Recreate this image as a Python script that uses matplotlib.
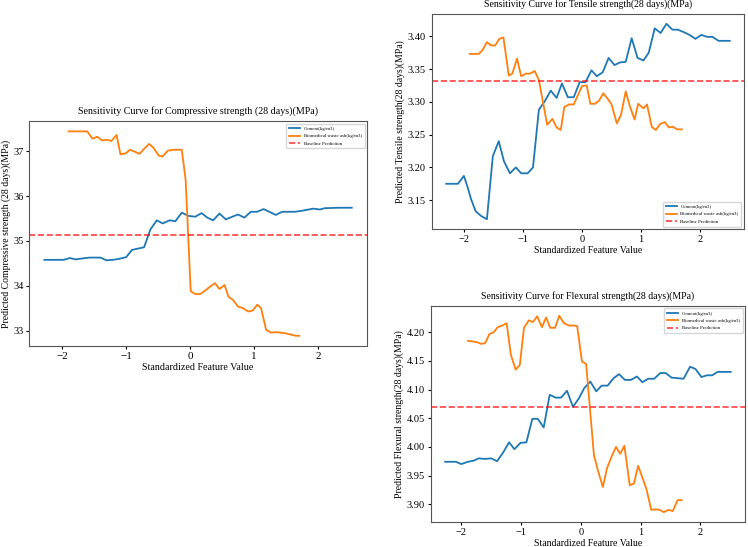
import numpy as np
import matplotlib
matplotlib.use("Agg")
import matplotlib.pyplot as plt

plt.rcParams['font.family'] = ['Liberation Serif', 'DejaVu Serif']

labels = ['Cement(kg/m3)', 'Biomedical waste ash(kg/m3)']

# Compressive strength
comp_cem_x = [-2.28, -1.98, -1.88, -1.79, -1.69, -1.58, -1.40, -1.31, -1.21, -1.12, -1.00, -0.91,
              -0.82, -0.72, -0.62, -0.52, -0.43, -0.32, -0.23, -0.13, -0.03, 0.08, 0.18, 0.27,
              0.36, 0.46, 0.56, 0.66, 0.75, 0.85, 0.95, 1.05, 1.15, 1.24, 1.34, 1.44, 1.64,
              1.74, 1.93, 2.03, 2.11, 2.32, 2.53]
comp_cem_y = [34.58, 34.58, 34.62, 34.59, 34.61, 34.63, 34.63, 34.57, 34.58, 34.60, 34.64, 34.80,
              34.83, 34.86, 35.26, 35.46, 35.39, 35.46, 35.44, 35.63, 35.56, 35.54, 35.62, 35.52,
              35.46, 35.61, 35.48, 35.54, 35.59, 35.52, 35.65, 35.65, 35.71, 35.65, 35.58, 35.65,
              35.65, 35.67, 35.72, 35.70, 35.73, 35.74, 35.74]
comp_bio_x = [-1.90, -1.61, -1.53, -1.45, -1.38, -1.30, -1.23, -1.15, -1.09, -1.01, -0.94, -0.87,
              -0.79, -0.72, -0.64, -0.57, -0.49, -0.43, -0.35, -0.27, -0.13, -0.07, 0.01, 0.08,
              0.16, 0.23, 0.30, 0.39, 0.46, 0.54, 0.60, 0.67, 0.75, 0.82, 0.91, 0.98, 1.05,
              1.11, 1.19, 1.27, 1.34, 1.48, 1.65, 1.71]
comp_bio_y = [37.44, 37.44, 37.28, 37.32, 37.24, 37.25, 37.23, 37.36, 36.93, 36.95, 37.03, 36.99,
              36.94, 37.05, 37.16, 37.07, 36.90, 36.88, 37.01, 37.03, 37.03, 36.37, 33.88, 33.82,
              33.82, 33.89, 33.97, 34.06, 33.93, 34.02, 33.76, 33.69, 33.54, 33.51, 33.43, 33.45,
              33.58, 33.51, 33.02, 32.96, 32.97, 32.95, 32.89, 32.89]
comp_base = 35.13

# Tensile strength
ten_cem_x = [-2.30, -2.10, -2.00, -1.93, -1.88, -1.80, -1.71, -1.61, -1.51, -1.41, -1.32, -1.22,
             -1.12, -1.03, -0.92, -0.83, -0.73, -0.63, -0.53, -0.43, -0.34, -0.24, -0.14, -0.04,
             0.06, 0.16, 0.25, 0.35, 0.45, 0.55, 0.64, 0.74, 0.84, 0.94, 1.04, 1.13, 1.23,
             1.33, 1.43, 1.53, 1.62, 1.73, 1.82, 1.92, 2.02, 2.12, 2.21, 2.31, 2.50]
ten_cem_y = [3.175, 3.175, 3.187, 3.168, 3.152, 3.133, 3.126, 3.121, 3.217, 3.240, 3.209, 3.191,
             3.200, 3.191, 3.191, 3.200, 3.288, 3.301, 3.317, 3.306, 3.328, 3.307, 3.307, 3.330,
             3.330, 3.348, 3.339, 3.345, 3.367, 3.356, 3.360, 3.361, 3.397, 3.367, 3.363, 3.375,
             3.412, 3.405, 3.419, 3.410, 3.410, 3.406, 3.402, 3.396, 3.402, 3.399, 3.399, 3.393,
             3.393]
ten_bio_x = [-1.90, -1.75, -1.69, -1.61, -1.54, -1.47, -1.40, -1.33, -1.24, -1.18, -1.10, -1.03,
             -0.95, -0.88, -0.80, -0.73, -0.67, -0.59, -0.50, -0.43, -0.36, -0.30, -0.22, -0.14,
             -0.07, 0.00, 0.08, 0.14, 0.22, 0.29, 0.36, 0.44, 0.50, 0.59, 0.66, 0.74, 0.81,
             0.89, 0.95, 1.04, 1.10, 1.18, 1.25, 1.32, 1.40, 1.47, 1.54, 1.61, 1.69]
ten_bio_y = [3.373, 3.373, 3.378, 3.391, 3.386, 3.386, 3.396, 3.398, 3.340, 3.343, 3.366, 3.339,
             3.343, 3.343, 3.347, 3.333, 3.304, 3.265, 3.274, 3.261, 3.257, 3.292, 3.296, 3.296,
             3.310, 3.324, 3.325, 3.297, 3.297, 3.302, 3.313, 3.304, 3.296, 3.267, 3.280, 3.316,
             3.293, 3.273, 3.297, 3.290, 3.296, 3.262, 3.257, 3.266, 3.269, 3.261, 3.262, 3.258,
             3.258]
ten_base = 3.332

# Flexural strength
flex_cem_x = [-2.27, -2.09, -2.00, -1.89, -1.79, -1.71, -1.60, -1.50, -1.40, -1.30, -1.20, -1.11,
              -1.01, -0.91, -0.81, -0.72, -0.62, -0.52, -0.42, -0.33, -0.23, -0.13, -0.03, 0.06,
              0.16, 0.26, 0.35, 0.45, 0.55, 0.64, 0.74, 0.84, 0.94, 1.03, 1.13, 1.23, 1.33,
              1.42, 1.52, 1.62, 1.72, 1.83, 1.92, 2.02, 2.11, 2.20, 2.29, 2.51]
flex_cem_y = [3.974, 3.974, 3.970, 3.974, 3.976, 3.980, 3.979, 3.980, 3.975, 3.990, 4.008, 3.996,
              4.007, 4.008, 4.049, 4.049, 4.034, 4.091, 4.086, 4.086, 4.098, 4.070, 4.085, 4.103,
              4.114, 4.097, 4.107, 4.107, 4.120, 4.127, 4.117, 4.117, 4.123, 4.113, 4.119, 4.119,
              4.129, 4.129, 4.121, 4.120, 4.119, 4.140, 4.136, 4.122, 4.125, 4.125, 4.131, 4.131]
flex_bio_x = [-1.89, -1.80, -1.74, -1.67, -1.60, -1.53, -1.46, -1.39, -1.31, -1.24, -1.17, -1.09,
              -1.02, -0.95, -0.87, -0.80, -0.73, -0.65, -0.58, -0.51, -0.43, -0.36, -0.28, -0.20,
              -0.13, -0.06, 0.02, 0.09, 0.22, 0.29, 0.37, 0.44, 0.52, 0.59, 0.66, 0.73, 0.82,
              0.89, 0.96, 1.03, 1.10, 1.18, 1.25, 1.32, 1.39, 1.47, 1.54, 1.62, 1.69]
flex_bio_y = [4.185, 4.184, 4.183, 4.180, 4.181, 4.197, 4.200, 4.209, 4.212, 4.216, 4.161, 4.135,
              4.143, 4.208, 4.221, 4.218, 4.228, 4.209, 4.226, 4.208, 4.208, 4.229, 4.216, 4.212,
              4.212, 4.211, 4.149, 4.145, 3.986, 3.958, 3.930, 3.963, 3.984, 4.000, 3.988, 4.002,
              3.933, 3.936, 3.967, 3.947, 3.926, 3.890, 3.891, 3.890, 3.886, 3.890, 3.888, 3.907,
              3.907]
flex_base = 4.070

fig = plt.figure(figsize=(7.48, 5.47), dpi=100)
ax1 = fig.add_axes([0.0388, 0.3675, 0.452, 0.411])
ax2 = fig.add_axes([0.5775, 0.5814, 0.417, 0.393])
ax3 = fig.add_axes([0.576, 0.0457, 0.420, 0.395])

# ax, data, title, ylabel, legend loc, tick size, text size
panels = [
    (ax1, comp_cem_x, comp_cem_y, comp_bio_x, comp_bio_y, comp_base,
     'Sensitivity Curve for Compressive strength (28 days)(MPa)',
     'Predicted Compressive strength (28 days)(MPa)', 'upper right', 8, 7.2),
    (ax2, ten_cem_x, ten_cem_y, ten_bio_x, ten_bio_y, ten_base,
     'Sensitivity Curve for Tensile strength(28 days)(MPa)',
     'Predicted Tensile strength(28 days)(MPa)', 'lower right', 7.5, 7),
    (ax3, flex_cem_x, flex_cem_y, flex_bio_x, flex_bio_y, flex_base,
     'Sensitivity Curve for Flexural strength(28 days)(MPa)',
     'Predicted Flexural strength(28 days)(MPa)', 'upper right', 7.5, 7),
]

for ax, cx, cy, bx, by, base, title, ylab, loc, tsz, fsz in panels:
    ax.plot(cx, cy, color='#1f77b4', lw=1.3, label=labels[0])
    ax.plot(bx, by, color='#ff7f0e', lw=1.3, label=labels[1])
    ax.axhline(base, color='red', ls='--', lw=1.2, alpha=0.75, label='Baseline Prediction')
    ax.set_title(title, fontsize=fsz, pad=5)
    ax.set_xlabel('Standardized Feature Value', fontsize=fsz, labelpad=1)
    ax.set_ylabel(ylab, fontsize=fsz, labelpad=2)
    ax.tick_params(labelsize=tsz, length=2.5, pad=2)
    for s in ax.spines.values():
        s.set_color('#555555')
    ax.legend(loc=loc, fontsize=3.5, handlelength=2.2, borderpad=0.6, labelspacing=0.6)

# left panel has little room for its y label
ax1.tick_params(axis='y', labelsize=7.5, pad=1.5)
ax1.yaxis.set_label_coords(-0.052, 0.5)
ax1.yaxis.label.set_fontsize(7)

fig.savefig('out.png', dpi=100)
